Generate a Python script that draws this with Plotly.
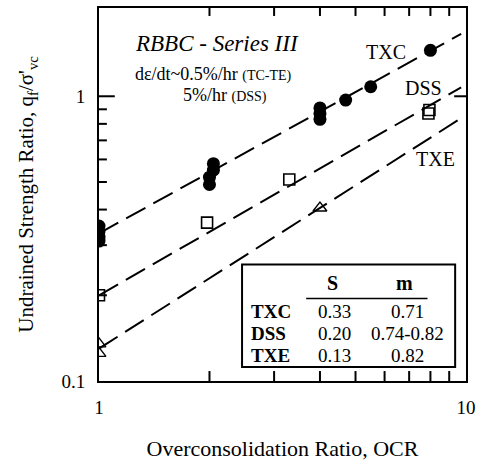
import numpy as np
import plotly.graph_objects as go

# Measured undrained strength ratios, RBBC Series III
txc_ocr = [1, 1, 1, 1, 2, 2, 2.05, 2.05, 4, 4, 4, 4.7, 5.5, 8]
txc_su = [0.31, 0.32, 0.335, 0.35, 0.49, 0.52, 0.55, 0.58, 0.83, 0.87, 0.91, 0.97, 1.08, 1.45]

dss_ocr = [1, 1.97, 3.3, 7.9, 7.95]
dss_su = [0.20, 0.36, 0.51, 0.87, 0.895]

txe_ocr = [1, 1, 4]
txe_su = [0.135, 0.125, 0.405]

# SHANSEP fit parameters: su/sigma'vc = S * OCR^m
modes = ["TXC", "DSS", "TXE"]
S_vals = [0.33, 0.20, 0.13]
m_vals = [0.71, 0.74, 0.82]
S_text = ["0.33", "0.20", "0.13"]
m_text = ["0.71", "0.74-0.82", "0.82"]
fit_ocr = [1, 9.7]

# axis ticks
x_major = [1, 10]
x_minor = [2, 3, 4, 5, 6, 7, 8, 9]
y_major = [0.1, 1]
y_minor = [0.2, 0.3, 0.4, 0.5, 0.6, 0.7, 0.8, 0.9]

FONT = "Liberation Serif, Times New Roman, serif"
XR = [0, 1]
YR = [-1, 0.31]

# plot area in pixels
L, R, T, B = 99, 471, 6, 381
W, H = 482, 463
PW, PH = R - L, B - T

fig = go.Figure()

# fitted lines
for S, m in zip(S_vals, m_vals):
    xs = np.array(fit_ocr, dtype=float)
    fig.add_trace(go.Scatter(x=xs, y=S * xs ** m, mode="lines",
                             line=dict(color="black", width=2, dash="22px,9px"),
                             hoverinfo="skip", showlegend=False))

# inward tick marks, drawn as line segments in data space
x_lo, x_hi = 10 ** XR[0], 10 ** XR[1]
y_lo, y_hi = 10 ** YR[0], 10 ** YR[1]
dx = (XR[1] - XR[0]) / PW   # log-decades per pixel, x
dy = (YR[1] - YR[0]) / PH   # log-decades per pixel, y
tx, ty = [], []
for v in x_minor:
    tx += [v, v, None, v, v, None]
    ty += [y_lo, 10 ** (YR[0] + 10 * dy), None, y_hi, 10 ** (YR[1] - 8 * dy), None]
for v in y_minor:
    tx += [x_lo, 10 ** (XR[0] + 8 * dx), None]
    ty += [v, v, None]
tx += [x_lo, 10 ** (XR[0] + 16 * dx), None, x_hi, 10 ** (XR[1] - 12 * dx), None]
ty += [1, 1, None, 1, 1, None]
fig.add_trace(go.Scatter(x=tx, y=ty, mode="lines", line=dict(color="black", width=2),
                         hoverinfo="skip", showlegend=False))

fig.add_trace(go.Scatter(x=txc_ocr, y=txc_su, mode="markers", showlegend=False,
                         marker=dict(symbol="circle", size=13, color="black")))
fig.add_trace(go.Scatter(x=dss_ocr, y=dss_su, mode="markers", showlegend=False,
                         marker=dict(symbol="square-open", size=11, color="black",
                                     line=dict(width=1.6, color="black"))))
fig.add_trace(go.Scatter(x=txe_ocr, y=txe_su, mode="markers", showlegend=False,
                         marker=dict(symbol="triangle-up-open", size=12, color="black",
                                     line=dict(width=1.4, color="black"))))


def px(x):
    return float((x - L) / PW)


def py(y):
    return float((B - y) / PH)


fig.update_layout(
    width=W, height=H,
    margin=dict(l=L, r=W - R, t=T, b=H - B),
    paper_bgcolor="white", plot_bgcolor="white",
    font=dict(family=FONT, color="black", size=18),
    xaxis=dict(type="log", range=XR, showgrid=False, zeroline=False,
               showline=True, linewidth=2, linecolor="black", mirror=True,
               ticks="", tickvals=x_major, ticktext=["1", "10"],
               ticklabelstandoff=8, tickfont=dict(size=19),
               title=dict(text="Overconsolidation Ratio, OCR", font=dict(size=22),
                          standoff=24)),
    yaxis=dict(type="log", range=YR, showgrid=False, zeroline=False,
               showline=True, linewidth=2, linecolor="black", mirror=True,
               ticks="", tickvals=y_major, ticktext=["0.1", "1"],
               ticklabelstandoff=8, tickfont=dict(size=19),
               title=dict(text="Undrained Strength Ratio, q<sub>f</sub>/σ'<sub>vc</sub>",
                          font=dict(size=21), standoff=22)),
)

shapes = [
    # parameter table frame
    dict(type="rect", xref="paper", yref="paper", x0=px(244), x1=px(460),
         y0=py(367), y1=py(264), line=dict(color="black", width=2),
         fillcolor="white", layer="above"),
    dict(type="line", xref="paper", yref="paper", x0=px(309), x1=px(432),
         y0=py(298), y1=py(298), line=dict(color="black", width=1.5)),
]
fig.update_layout(shapes=shapes)

ann = []
ann.append(dict(text="<i>RBBC - Series III</i>", x=px(134), y=py(42), xanchor="left",
                yanchor="middle", font=dict(size=23)))
ann.append(dict(text="dε/dt~0.5%/hr <span style='font-size:14px'>(TC-TE)</span>",
                x=px(134), y=py(72), xanchor="left", yanchor="middle",
                font=dict(size=18)))
ann.append(dict(text="5%/hr <span style='font-size:14px'>(DSS)</span>",
                x=px(183), y=py(93), xanchor="left", yanchor="middle",
                font=dict(size=18)))
for name, (lx, ly) in zip(modes, [(390, 50), (428, 86), (440, 158)]):
    ann.append(dict(text=name, x=px(lx), y=py(ly), xanchor="center",
                    yanchor="middle", font=dict(size=20)))

ann.append(dict(text="<b>S</b>", x=px(336), y=py(282), xanchor="center",
                yanchor="middle", font=dict(size=20)))
ann.append(dict(text="<b>m</b>", x=px(409), y=py(282), xanchor="center",
                yanchor="middle", font=dict(size=20)))
for name, s, m, ry in zip(modes, S_text, m_text, [311, 333, 355]):
    ann.append(dict(text=f"<b>{name}</b>", x=px(252), y=py(ry), xanchor="left",
                    yanchor="middle", font=dict(size=19)))
    ann.append(dict(text=s, x=px(338), y=py(ry), xanchor="center",
                    yanchor="middle", font=dict(size=19)))
    ann.append(dict(text=m, x=px(412), y=py(ry), xanchor="center",
                    yanchor="middle", font=dict(size=19)))

for a in ann:
    a.update(xref="paper", yref="paper", showarrow=False, borderpad=0)
fig.update_layout(annotations=ann)

fig.write_html("out.html")
